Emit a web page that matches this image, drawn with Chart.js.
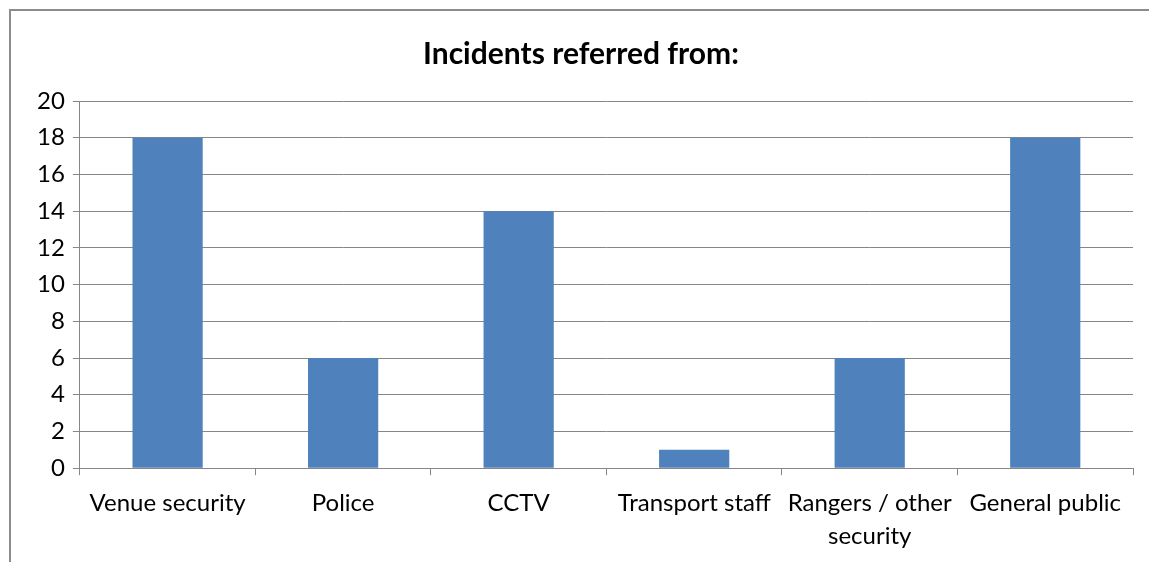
<!DOCTYPE html>
<html>
<head>
<meta charset="utf-8">
<script src="https://cdn.jsdelivr.net/npm/chart.js@4/dist/chart.umd.min.js"></script>
<style>
  html, body { margin: 0; padding: 0; background: #fff; overflow: hidden; }
  #frame {
    position: absolute; left: 9px; top: 9px;
    width: 1200px; height: 600px;
    border-left: 2px solid #8c8c8c; border-top: 2px solid #8c8c8c;
  }
  #wrap { position: absolute; left: 11px; top: 11px; width: 1154px; height: 560px; }
</style>
</head>
<body>
<div id="frame"></div>
<div id="wrap"><canvas id="barChart"></canvas></div>
<script>
const categories = ['Venue security', 'Police', 'CCTV', 'Transport staff', ['Rangers / other', 'security'], 'General public'];
const incidents = [18, 6, 14, 1, 6, 18];
const yTicks = [0, 20, 2]; // min, max, step

const axisGrey = '#868686';
const font = 'Lato, "Open Sans", sans-serif';

new Chart(document.getElementById('barChart'), {
  type: 'bar',
  data: {
    labels: categories,
    datasets: [{
      label: 'Incidents',
      data: incidents,
      backgroundColor: '#4f81bd',
      barPercentage: 0.4,
      categoryPercentage: 1.0
    }]
  },
  options: {
    responsive: true,
    maintainAspectRatio: false,
    animation: false,
    layout: { padding: { left: 18, right: 32, top: 0, bottom: 7 } },
    plugins: {
      legend: { display: false },
      tooltip: { enabled: false },
      title: {
        display: true,
        text: 'Incidents referred from:',
        color: '#000',
        font: { family: font, size: 30, weight: 'bold' },
        padding: { top: 25, bottom: 29 }
      }
    },
    scales: {
      x: {
        grid: {
          offset: true,
          drawOnChartArea: false,
          drawTicks: true,
          tickLength: 7,
          color: axisGrey
        },
        border: { color: axisGrey, width: 1 },
        ticks: {
          color: '#000',
          maxRotation: 0,
          autoSkip: false,
          padding: 12,
          font: { family: font, size: 24, lineHeight: 1.35 }
        }
      },
      y: {
        min: yTicks[0],
        max: yTicks[1],
        grid: { color: axisGrey, tickLength: 7 },
        border: { color: axisGrey, width: 1 },
        ticks: {
          stepSize: yTicks[2],
          color: '#000',
          padding: 8,
          font: { family: font, size: 24 }
        }
      }
    }
  }
});
</script>
</body>
</html>
